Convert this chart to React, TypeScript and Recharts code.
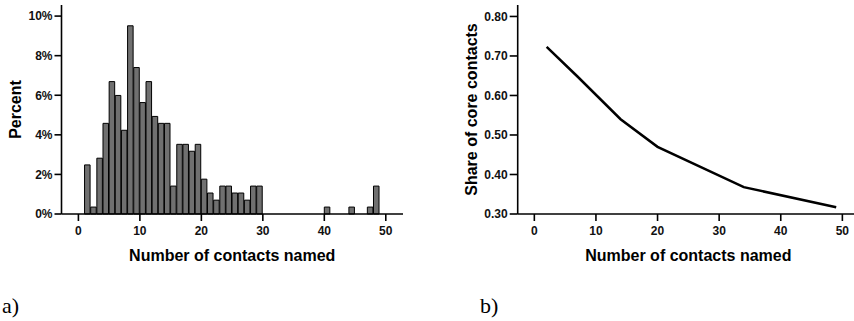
import React from "react";
import { BarChart, Bar, LineChart, Line, XAxis, YAxis } from "recharts";

// a) distribution of the number of contacts named (percent per 1-wide bin)
const binStarts = [
  1, 2, 3, 4, 5, 6, 7, 8, 9, 10, 11, 12, 13, 14, 15, 16, 17, 18, 19, 20,
  21, 22, 23, 24, 25, 26, 27, 28, 29, 40, 44, 47, 48,
];
const binPercent = [
  2.48, 0.35, 2.82, 4.58, 6.69, 5.99, 4.23, 9.51, 7.4, 5.63, 6.69, 4.93, 4.58,
  4.58, 1.41, 3.52, 3.52, 3.17, 3.52, 1.76, 1.06, 0.7, 1.41, 1.41, 1.06, 1.06,
  0.7, 1.41, 1.41, 0.35, 0.35, 0.35, 1.41,
];
const percentTicks = [0, 2, 4, 6, 8, 10];

// b) share of core contacts by number of contacts named
const contactsNamed = [2, 7, 14, 20, 34, 49];
const coreShare = [0.723, 0.648, 0.54, 0.47, 0.368, 0.317];
const shareTicks = [0.3, 0.4, 0.5, 0.6, 0.7, 0.8];

const xTicks = [0, 10, 20, 30, 40, 50];

const histData = binStarts.map((s, i) => ({ mid: s + 0.5, pct: binPercent[i] }));
const lineData = contactsNamed.map((n, i) => ({ n, share: coreShare[i] }));

const FONT = "'Liberation Sans', Arial, sans-serif";
const tickStyle = { fontFamily: FONT, fontSize: 12, fontWeight: "bold", fill: "#111" };
const titleStyle = { fontFamily: FONT, fontSize: 16, fontWeight: "bold", fill: "#000", textAnchor: "middle" as const };
const line = { stroke: "#000", strokeWidth: 1.6 };

// left plot area: x 61.5..403, domain -2.75..52.8
const X_DOMAIN_A: [number, number] = [-2.75, 52.8];
const BIN_PX = (403 - 61.5) / (X_DOMAIN_A[1] - X_DOMAIN_A[0]);

const panelLabel: React.CSSProperties = {
  position: "absolute",
  top: 295,
  fontFamily: "'Liberation Serif', 'Times New Roman', serif",
  fontSize: 22,
  lineHeight: "22px",
  color: "#000",
};

export default function App() {
  return (
    <div style={{ position: "absolute", left: 0, top: 0, width: 854, height: 321, overflow: "hidden", background: "#fff" }}>
      <div style={{ position: "absolute", left: 0, top: 0 }}>
        <BarChart width={404} height={264} data={histData} margin={{ top: 5, right: 1, left: 0, bottom: 0 }}>
          <XAxis
            dataKey="mid"
            type="number"
            domain={X_DOMAIN_A}
            ticks={xTicks}
            interval={0}
            height={50}
            tick={tickStyle}
            tickSize={7}
            tickMargin={5}
            axisLine={line}
            tickLine={line}
            label={{ value: "Number of contacts named", position: "insideBottom", offset: 3, style: titleStyle }}
          />
          <XAxis xAxisId="top" orientation="top" type="number" domain={X_DOMAIN_A} height={0} tick={false} tickLine={false} axisLine={line} />
          <YAxis
            type="number"
            domain={[0, 10.56]}
            ticks={percentTicks}
            interval={0}
            width={61.5}
            tick={tickStyle}
            tickFormatter={(v: number) => `${v}%`}
            tickSize={7}
            tickMargin={2}
            axisLine={line}
            tickLine={line}
            label={{ value: "Percent", angle: -90, position: "insideLeft", offset: 15.7, style: titleStyle }}
          />
          <YAxis yAxisId="right" orientation="right" type="number" domain={[0, 10.56]} width={0} tick={false} tickLine={false} axisLine={line} />
          <Bar dataKey="pct" fill="#707070" stroke="#000" strokeWidth={1} barSize={BIN_PX} isAnimationActive={false} />
        </BarChart>
      </div>

      <div style={{ position: "absolute", left: 420, top: 0 }}>
        <LineChart width={440} height={264} data={lineData} margin={{ top: 5, right: 1, left: 0, bottom: 0 }}>
          <XAxis
            dataKey="n"
            type="number"
            domain={[-2.7, 52.7]}
            ticks={xTicks}
            interval={0}
            height={50}
            tick={tickStyle}
            tickSize={7}
            tickMargin={5}
            axisLine={line}
            tickLine={line}
            label={{ value: "Number of contacts named", position: "insideBottom", offset: 3, style: titleStyle }}
          />
          <XAxis xAxisId="top" orientation="top" type="number" domain={[-2.7, 52.7]} height={0} tick={false} tickLine={false} axisLine={line} />
          <YAxis
            type="number"
            domain={[0.3, 0.829]}
            ticks={shareTicks}
            interval={0}
            width={97.7}
            tick={tickStyle}
            tickFormatter={(v: number) => v.toFixed(2)}
            tickSize={8}
            tickMargin={2}
            axisLine={line}
            tickLine={line}
            label={{ value: "Share of core contacts", angle: -90, position: "insideLeft", offset: 51.3, style: titleStyle }}
          />
          <YAxis yAxisId="right" orientation="right" type="number" domain={[0.3, 0.829]} width={0} tick={false} tickLine={false} axisLine={line} />
          <Line dataKey="share" type="linear" stroke="#000" strokeWidth={2.5} dot={false} isAnimationActive={false} />
        </LineChart>
      </div>

      <div style={{ ...panelLabel, left: 2 }}>a)</div>
      <div style={{ ...panelLabel, left: 480 }}>b)</div>
    </div>
  );
}
